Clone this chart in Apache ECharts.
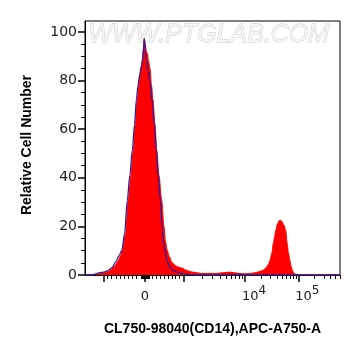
<!DOCTYPE html>
<html>
<head>
<meta charset="utf-8">
<script src="https://cdn.jsdelivr.net/npm/echarts@6/dist/echarts.min.js"></script>
<style>
  html, body { margin: 0; padding: 0; background: #fff; }
  #chart { width: 361px; height: 356px; }
</style>
</head>
<body>
<div id="chart"></div>
<script>
// histograms, x in display channels (0-1024 on the logicle scale)
var redChannel = [0, 40, 60, 76, 92, 108, 120, 133, 143, 151, 163, 174, 184, 194, 202, 210, 216, 220, 226, 231,
  234, 238, 242, 246, 251, 255, 261, 267, 273, 281, 288, 297, 308, 317, 323, 330, 339, 349, 361, 373,
  390, 406, 422, 442, 462, 482, 502, 522, 542, 562, 582, 598, 622, 643, 663, 687, 703, 716, 727, 736,
  743, 750, 756, 761, 766, 773, 779, 785, 791, 799, 806, 812, 817, 823, 828, 833, 839, 847, 855, 1024];
var redCount = [0, 0.2, 0.5, 0.8, 1.3, 2.5, 3.8, 5.8, 8, 10.2, 17, 30.8, 41, 51.4, 62, 72, 78, 82, 86, 89,
  93, 97.4, 95, 92, 91, 88, 85, 78, 72, 62, 51.4, 41, 30.8, 20, 14, 10.2, 7.5, 5.2, 4.0, 3.3,
  2.8, 2.0, 1.4, 1.0, 0.7, 0.6, 0.7, 0.6, 0.8, 1.0, 1.2, 0.9, 0.6, 0.5, 0.6, 1.0, 1.5, 2.0, 3.0, 4.3,
  6, 8.9, 12.9, 15.5, 18.4, 21, 22.3, 22.5, 22, 20.5, 18.4, 12.9, 9, 6, 3.5, 1.8, 0.7, 0.2, 0, 0];

var blueChannel = [0, 28, 44, 60, 76, 92, 108, 124, 137, 148, 159, 170, 180, 190, 199, 206, 213, 219, 225, 231,
  235, 238, 242, 247, 253, 261, 269, 279, 286, 294, 303, 310, 315, 321, 329, 341, 353, 369, 394, 422, 1024];
var blueCount = [0, 0, 0.5, 1.0, 1.2, 1.8, 3.0, 5.5, 8, 10.2, 17, 30.8, 41, 51.4, 62, 72, 78, 82, 85, 88,
  93, 97, 93, 88, 84, 80, 72, 62, 51.4, 41, 30.8, 20, 14, 10.2, 6, 3.3, 2, 1.2, 0.5, 0, 0];

var yMajor = [0, 20, 40, 60, 80, 100];
var yMinor = [5, 10, 15, 25, 30, 35, 45, 50, 55, 65, 70, 75, 85, 90, 95];

var xMajorValues = [-1000, 0, 1000, 10000, 100000];
var xMinorValues = [-900, -800, -700, -600, -500, -400, -300, -200, -100,
  -90, -80, -70, -60, -50, -40, -30, -20, -10, 10, 20, 30, 40, 50, 60, 70, 80, 90,
  100, 200, 300, 400, 500, 600, 700, 800, 900,
  2000, 3000, 4000, 5000, 6000, 7000, 8000, 9000,
  20000, 30000, 40000, 50000, 60000, 70000, 80000, 90000,
  200000, 300000, 400000, 500000, 600000];
var xLabelValues = [0, 10000, 100000];
var xLabelTexts = ['{z|0}', '{b|10}{s|4}', '{b|10}{s|5}'];

// biexponential display transform, value -> channel
function toChannel(v) {
  if (v < 0) return 240.9 + v * 0.1675;
  if (v <= 1000) return 240.9 + v * 0.1538;
  if (v <= 10000) return 394.7 + 247.8 * Math.log10(v / 1000);
  return 642.5 + 214.1 * Math.log10(v / 10000);
}

var xLabelCh = xLabelValues.map(toChannel);

function pairs(xs, ys) {
  return xs.map(function (x, i) { return [x, ys[i]]; });
}

var chart = echarts.init(document.getElementById('chart'));
var numFont = 'DejaVu Sans';
var nameFont = 'Liberation Sans';

chart.setOption({
  animation: false,
  grid: { left: 85, right: 21, top: 21, bottom: 81, show: true, borderColor: '#000', borderWidth: 1 },
  graphic: [{
    type: 'text', left: 88, top: 22, z: 0, silent: true,
    style: {
      text: 'WWW.PTGLAB.COM', font: 'italic 25px "Liberation Sans"',
      fill: '#f5f5f5', stroke: '#c6c6c6', lineWidth: 0.8
    }
  }],
  xAxis: [{
    type: 'value', min: 0, max: 1024,
    name: 'CL750-98040(CD14),APC-A750-A', nameLocation: 'middle', nameGap: 47,
    nameTextStyle: { fontFamily: nameFont, fontWeight: 'bold', fontSize: 14, color: '#000' },
    axisLine: { onZero: false, lineStyle: { color: '#000', width: 1 } },
    axisTick: { customValues: xMajorValues.map(toChannel), length: 7, lineStyle: { color: '#000', width: 1.5 } },
    axisLabel: {
      customValues: xLabelCh, margin: 10,
      formatter: function (v) {
        for (var i = 0; i < xLabelCh.length; i++) {
          if (Math.abs(xLabelCh[i] - v) < 0.5) return xLabelTexts[i];
        }
        return '';
      },
      rich: {
        z: { fontFamily: numFont, fontSize: 13, color: '#222', lineHeight: 18, verticalAlign: 'bottom' },
        b: { fontFamily: numFont, fontSize: 13, color: '#222', lineHeight: 18, verticalAlign: 'bottom', padding: [0, 0, 0, 18] },
        s: { fontFamily: numFont, fontSize: 12, color: '#222', lineHeight: 8, verticalAlign: 'top' }
      }
    },
    splitLine: { show: false }
  }, {
    type: 'value', min: 0, max: 1024, position: 'bottom',
    axisLine: { show: false },
    axisTick: { customValues: xMinorValues.map(toChannel), length: 4, lineStyle: { color: '#000', width: 1 } },
    axisLabel: { show: false },
    splitLine: { show: false }
  }],
  yAxis: [{
    type: 'value', min: 0, max: 104.5,
    name: 'Relative Cell Number', nameLocation: 'middle', nameGap: 51,
    nameTextStyle: { fontFamily: nameFont, fontWeight: 'bold', fontSize: 14, color: '#000', padding: [0, 0, 0, 6] },
    axisLine: { show: true, onZero: false, lineStyle: { color: '#000', width: 1 } },
    axisTick: { show: true, customValues: yMajor, length: 7, lineStyle: { color: '#000', width: 1.5 } },
    axisLabel: { customValues: yMajor, margin: 8, fontFamily: numFont, fontSize: 14, color: '#222' },
    splitLine: { show: false }
  }, {
    type: 'value', min: 0, max: 104.5, position: 'left',
    axisLine: { show: false },
    axisTick: { show: true, customValues: yMinor, length: 4, lineStyle: { color: '#000', width: 1 } },
    axisLabel: { show: false },
    splitLine: { show: false }
  }],
  series: [{
    name: 'CL750-98040', type: 'line', xAxisIndex: 0, yAxisIndex: 0,
    data: pairs(redChannel, redCount),
    smooth: 0.3, smoothMonotone: 'x', showSymbol: false, z: 2,
    lineStyle: { color: '#ff0000', width: 1 },
    itemStyle: { color: '#ff0000' },
    areaStyle: { color: '#ff0000', opacity: 1 }
  }, {
    name: 'control', type: 'line', xAxisIndex: 0, yAxisIndex: 0,
    data: pairs(blueChannel, blueCount),
    smooth: 0.3, smoothMonotone: 'x', showSymbol: false, z: 3,
    lineStyle: { color: '#2c1f99', width: 1.3 },
    itemStyle: { color: '#2c1f99' }
  }]
});
</script>
</body>
</html>
